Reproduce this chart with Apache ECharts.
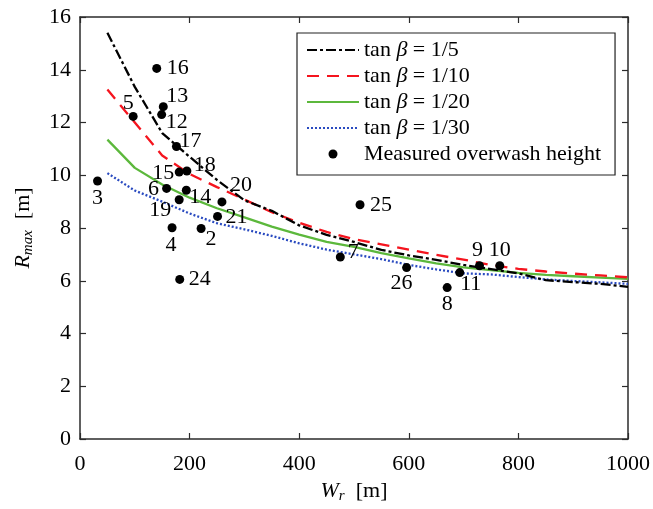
<!DOCTYPE html>
<html><head><meta charset="utf-8">
<script src="https://cdn.jsdelivr.net/npm/echarts@6/dist/echarts.min.js"></script>
<style>html,body{margin:0;padding:0;background:#fff}#c{width:653px;height:509px}</style>
</head><body><div id="c"></div>
<script>
// ---- data ----
const curveX = [50,100,150,200,250,300,350,400,450,500,550,600,650,700,750,800,850,900,950,1000];
const tan5  = [15.4,13.35,11.6,10.7,9.82,9.05,8.65,8.1,7.74,7.47,7.17,6.96,6.79,6.6,6.44,6.28,6.02,5.95,5.88,5.77];
const tan10 = [13.25,12.0,10.75,10.05,9.55,9.08,8.6,8.2,7.85,7.58,7.38,7.18,6.98,6.8,6.6,6.45,6.35,6.27,6.2,6.13];
const tan20 = [11.35,10.28,9.65,9.15,8.75,8.4,8.05,7.75,7.47,7.28,7.05,6.85,6.66,6.51,6.4,6.3,6.22,6.17,6.12,6.07];
const tan30 = [10.08,9.42,9.0,8.55,8.18,7.95,7.7,7.42,7.18,7.0,6.82,6.6,6.43,6.28,6.24,6.14,6.05,5.99,5.94,5.88];
const pointIds = ['2','3','4','5','6','7','8','9','10','11','12','13','14','15','16','17','18','19','20','21','24','25','26'];
const pointW   = [221,32,168,97,158,475,670,729,766,693,149,152,194,181,140,176,195,181,259,251,182,511,596];
const pointR   = [7.98,9.78,8.01,12.23,9.5,6.9,5.74,6.57,6.57,6.31,12.3,12.6,9.43,10.12,14.05,11.09,10.16,9.07,8.99,8.44,6.05,8.88,6.5];
const xTicks = [0,200,400,600,800,1000];
const yTicks = [0,2,4,6,8,10,12,14,16];
const seriesNames = ['tan5','tan10','tan20','tan30','meas'];
// label placement (style, not data): offset of label centre from point
const labelOffsets = [[10,11],[0,17],[-1,17],[-5,-13],[-13,1],[13,-5],[0,17],[-2,-15],[0,-15],[11,12],[15,8],[14,-10],[14,7],[-16,1],[21,0],[14,-5],[18,-6],[-19,10],[19,-17],[19,1],[20,0],[21,0],[-5,16]];

const FONT = '"Liberation Serif", "DejaVu Serif", serif';
const FS = 22;
const axisCol = '#2b2b2b';
const txtCol = '#000';

function pairs(xs, ys){ return xs.map((x,i)=>[x, ys[i]]); }

const chart = echarts.init(document.getElementById('c'), null, {renderer:'canvas'});
const legendRich = { i:{fontFamily:FONT,fontSize:FS,fontStyle:'italic',color:txtCol}, t:{fontFamily:FONT,fontSize:FS,color:txtCol} };
const legendLabels = {
  tan5:'{t|tan }{i|β}{t| = 1/5}',
  tan10:'{t|tan }{i|β}{t| = 1/10}',
  tan20:'{t|tan }{i|β}{t| = 1/20}',
  tan30:'{t|tan }{i|β}{t| = 1/30}',
  meas:'{t|Measured overwash height}'
};
const nameRich = {i:{fontFamily:FONT,fontSize:FS,fontStyle:'italic',color:txtCol},s:{fontFamily:FONT,fontSize:15,fontStyle:'italic',color:txtCol,verticalAlign:'bottom',padding:[11,0,0,0]},t:{fontFamily:FONT,fontSize:FS,color:txtCol}};

const baseAxis = {
  axisLine:{show:true,onZero:false,lineStyle:{color:axisCol,width:1.5}},
  axisTick:{show:true,inside:true,length:6,lineStyle:{color:axisCol,width:1.2}},
  splitLine:{show:false}
};

const option = {
  animation:false,
  backgroundColor:'#fff',
  grid:{left:80,right:22,top:17,bottom:70,containLabel:false},
  xAxis:[
    Object.assign({}, baseAxis, {type:'value',min:xTicks[0],max:xTicks[xTicks.length-1],interval:200,position:'bottom',
      axisLabel:{fontFamily:FONT,fontSize:FS,color:txtCol,margin:14,formatter:v=>String(v)},
      name:'{i|W}{s|r}{t|  [m]}',nameLocation:'middle',nameGap:38,
      nameTextStyle:{rich:nameRich}}),
    Object.assign({}, baseAxis, {type:'value',min:0,max:1000,interval:200,position:'top',axisLabel:{show:false}})
  ],
  yAxis:[
    Object.assign({}, baseAxis, {type:'value',min:yTicks[0],max:yTicks[yTicks.length-1],interval:2,position:'left',
      axisLabel:{fontFamily:FONT,fontSize:FS,color:txtCol,margin:9,formatter:v=>String(v)},
      name:'{i|R}{s|max}{t|  [m]}',nameLocation:'middle',nameGap:44,nameRotate:90,
      nameTextStyle:{rich:nameRich}}),
    Object.assign({}, baseAxis, {type:'value',min:0,max:16,interval:2,position:'right',axisLabel:{show:false}})
  ],
  legend:{
    orient:'vertical',left:297,top:33,
    padding:[6,14,10,9],
    itemGap:4,itemWidth:52,itemHeight:9,
    borderColor:'#222',borderWidth:1.2,backgroundColor:'#fff',
    textStyle:{fontFamily:FONT,fontSize:FS,color:txtCol,lineHeight:22,rich:legendRich},
    formatter:function(n){return legendLabels[n];},
    data:seriesNames.map(n=>n==='meas'?{name:n}:{name:n,itemStyle:{opacity:0}})
  },
  series:[
    {name:'tan5',type:'line',data:pairs(curveX,tan5),symbol:'none',itemStyle:{color:'#000'},lineStyle:{color:'#000',width:2.3,type:[10,3,3,3]},z:5},
    {name:'tan10',type:'line',data:pairs(curveX,tan10),symbol:'none',itemStyle:{color:'#f5141e'},lineStyle:{color:'#f5141e',width:2.3,type:[12,8]},z:4},
    {name:'tan20',type:'line',data:pairs(curveX,tan20),symbol:'none',itemStyle:{color:'#5cb83c'},lineStyle:{color:'#5cb83c',width:2.3,type:'solid'},z:3},
    {name:'tan30',type:'line',data:pairs(curveX,tan30),symbol:'none',itemStyle:{color:'#2a4bc0'},lineStyle:{color:'#2a4bc0',width:2.3,type:[2,2]},z:2},
    {name:'meas',type:'scatter',symbol:'circle',symbolSize:9,itemStyle:{color:'#000',opacity:1},z:6,
      data:pointW.map((w,i)=>({value:[w,pointR[i]],name:pointIds[i],
        label:{show:true,position:'inside',offset:labelOffsets[i],formatter:pointIds[i],align:'center',verticalAlign:'middle',
          fontFamily:FONT,fontSize:FS,color:txtCol}}))}
  ]
};
chart.setOption(option);
</script></body></html>
